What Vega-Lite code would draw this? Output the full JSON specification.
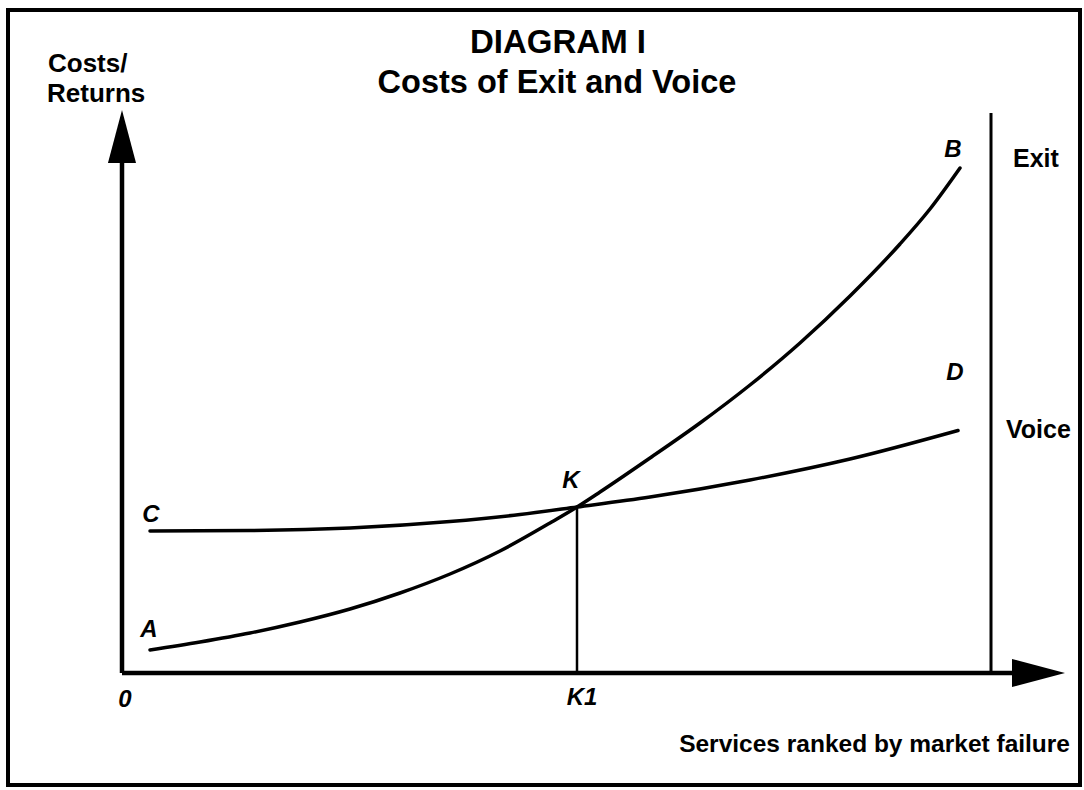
{
  "$schema": "https://vega.github.io/schema/vega-lite/v6.json",
  "width": 1084,
  "height": 790,
  "autosize": {"type": "fit", "contains": "padding"},
  "padding": 0,
  "background": "white",
  "config": {"view": {"stroke": null}},
  "datasets": {
    "frame": [{"x": -11.4, "x2": 95.8, "y": -11.2, "y2": 66.3}],
    "curves": [
      {"curve": "AB", "x": 2.8, "y": 2.3},
      {"curve": "AB", "x": 7.8, "y": 3.1},
      {"curve": "AB", "x": 12.8, "y": 4.0},
      {"curve": "AB", "x": 17.8, "y": 5.1},
      {"curve": "AB", "x": 22.8, "y": 6.4},
      {"curve": "AB", "x": 27.8, "y": 8.0},
      {"curve": "AB", "x": 32.8, "y": 9.9},
      {"curve": "AB", "x": 37.8, "y": 12.2},
      {"curve": "AB", "x": 42.8, "y": 15.0},
      {"curve": "AB", "x": 45.5, "y": 16.6},
      {"curve": "AB", "x": 47.8, "y": 18.1},
      {"curve": "AB", "x": 52.8, "y": 21.5},
      {"curve": "AB", "x": 57.8, "y": 25.0},
      {"curve": "AB", "x": 62.8, "y": 28.8},
      {"curve": "AB", "x": 67.8, "y": 33.0},
      {"curve": "AB", "x": 72.8, "y": 37.7},
      {"curve": "AB", "x": 77.8, "y": 42.9},
      {"curve": "AB", "x": 80.8, "y": 46.4},
      {"curve": "AB", "x": 83.8, "y": 50.5},
      {"curve": "CD", "x": 2.8, "y": 14.2},
      {"curve": "CD", "x": 12.8, "y": 14.25},
      {"curve": "CD", "x": 22.8, "y": 14.5},
      {"curve": "CD", "x": 32.8, "y": 15.15},
      {"curve": "CD", "x": 39.8, "y": 15.85},
      {"curve": "CD", "x": 45.5, "y": 16.6},
      {"curve": "CD", "x": 52.8, "y": 17.6},
      {"curve": "CD", "x": 62.8, "y": 19.3},
      {"curve": "CD", "x": 72.8, "y": 21.4},
      {"curve": "CD", "x": 83.6, "y": 24.25}
    ],
    "axes": [
      {"name": "y axis", "x": 0, "y": 0, "x2": 0, "y2": 51.5},
      {"name": "x axis", "x": 0, "y": 0, "x2": 89.5, "y2": 0}
    ],
    "k1": [{"name": "K1", "x": 45.5, "y": 0, "x2": 45.5, "y2": 16.6}],
    "divider": [{"name": "Exit/Voice", "x": 86.9, "y": 0, "x2": 86.9, "y2": 56.0}],
    "arrows": [
      {"dir": "up", "x": 0, "y": 53.65},
      {"dir": "right", "x": 91.65, "y": 0}
    ],
    "labels": [
      {"group": "title", "label": "DIAGRAM I", "x": 43.6, "y": 62.0},
      {"group": "subtitle", "label": "Costs of Exit and Voice", "x": 43.5, "y": 58.0},
      {"group": "yname", "label": "Costs/", "x": -7.4, "y": 60.1},
      {"group": "yname", "label": "Returns", "x": -7.5, "y": 57.1},
      {"group": "letter", "label": "B", "x": 83.1, "y": 51.6},
      {"group": "letter", "label": "D", "x": 83.3, "y": 29.3},
      {"group": "letter", "label": "K", "x": 44.9, "y": 18.5},
      {"group": "letter", "label": "C", "x": 2.9, "y": 15.1},
      {"group": "letter", "label": "A", "x": 2.7, "y": 3.6},
      {"group": "letter", "label": "0", "x": 0.3, "y": -3.4},
      {"group": "letter", "label": "K1", "x": 46.0, "y": -3.2},
      {"group": "side", "label": "Exit", "x": 89.1, "y": 50.6},
      {"group": "side", "label": "Voice", "x": 88.4, "y": 23.5},
      {"group": "xname", "label": "Services ranked by market failure", "x": 94.8, "y": -7.9}
    ]
  },
  "encoding": {
    "x": {"field": "x", "type": "quantitative", "scale": {"domain": [-12.2, 96.2], "nice": false, "zero": false}, "axis": null},
    "y": {"field": "y", "type": "quantitative", "scale": {"domain": [-11.7, 67.3], "nice": false, "zero": false}, "axis": null}
  },
  "layer": [
    {
      "data": {"name": "frame"},
      "mark": {"type": "rect", "filled": false, "stroke": "black", "strokeWidth": 4, "fill": null},
      "encoding": {"x2": {"field": "x2"}, "y2": {"field": "y2"}}
    },
    {
      "data": {"name": "curves"},
      "mark": {"type": "line", "interpolate": "monotone", "color": "black", "strokeWidth": 3.5, "strokeCap": "round"},
      "encoding": {"detail": {"field": "curve", "type": "nominal"}}
    },
    {
      "data": {"name": "axes"},
      "mark": {"type": "rule", "color": "black", "strokeWidth": 4.5},
      "encoding": {"x2": {"field": "x2"}, "y2": {"field": "y2"}}
    },
    {
      "data": {"name": "k1"},
      "mark": {"type": "rule", "color": "black", "strokeWidth": 2.5},
      "encoding": {"x2": {"field": "x2"}, "y2": {"field": "y2"}}
    },
    {
      "data": {"name": "divider"},
      "mark": {"type": "rule", "color": "black", "strokeWidth": 3},
      "encoding": {"x2": {"field": "x2"}, "y2": {"field": "y2"}}
    },
    {
      "data": {"name": "arrows"},
      "transform": [{"filter": "datum.dir == 'up'"}],
      "mark": {"type": "point", "shape": "M0,-1L0.53,1L-0.53,1Z", "filled": true, "color": "black", "opacity": 1, "size": 2809}
    },
    {
      "data": {"name": "arrows"},
      "transform": [{"filter": "datum.dir == 'right'"}],
      "mark": {"type": "point", "shape": "M1,0L-1,-0.53L-1,0.53Z", "filled": true, "color": "black", "opacity": 1, "size": 2809}
    },
    {
      "data": {"name": "labels"},
      "transform": [{"filter": "datum.group == 'title'"}],
      "mark": {"type": "text", "font": "Liberation Sans", "fontWeight": "bold", "fontSize": 33, "align": "center", "baseline": "alphabetic", "color": "black"},
      "encoding": {"text": {"field": "label"}}
    },
    {
      "data": {"name": "labels"},
      "transform": [{"filter": "datum.group == 'subtitle'"}],
      "mark": {"type": "text", "font": "Liberation Sans", "fontWeight": "bold", "fontSize": 32.5, "align": "center", "baseline": "alphabetic", "color": "black"},
      "encoding": {"text": {"field": "label"}}
    },
    {
      "data": {"name": "labels"},
      "transform": [{"filter": "datum.group == 'yname'"}],
      "mark": {"type": "text", "font": "Liberation Sans", "fontWeight": "bold", "fontSize": 26, "align": "left", "baseline": "alphabetic", "color": "black"},
      "encoding": {"text": {"field": "label"}}
    },
    {
      "data": {"name": "labels"},
      "transform": [{"filter": "datum.group == 'letter'"}],
      "mark": {"type": "text", "font": "Liberation Sans", "fontWeight": "bold", "fontStyle": "italic", "fontSize": 24, "align": "center", "baseline": "alphabetic", "color": "black"},
      "encoding": {"text": {"field": "label"}}
    },
    {
      "data": {"name": "labels"},
      "transform": [{"filter": "datum.group == 'side'"}],
      "mark": {"type": "text", "font": "Liberation Sans", "fontWeight": "bold", "fontSize": 25, "align": "left", "baseline": "alphabetic", "color": "black"},
      "encoding": {"text": {"field": "label"}}
    },
    {
      "data": {"name": "labels"},
      "transform": [{"filter": "datum.group == 'xname'"}],
      "mark": {"type": "text", "font": "Liberation Sans", "fontWeight": "bold", "fontSize": 24.5, "align": "right", "baseline": "alphabetic", "color": "black"},
      "encoding": {"text": {"field": "label"}}
    }
  ]
}
